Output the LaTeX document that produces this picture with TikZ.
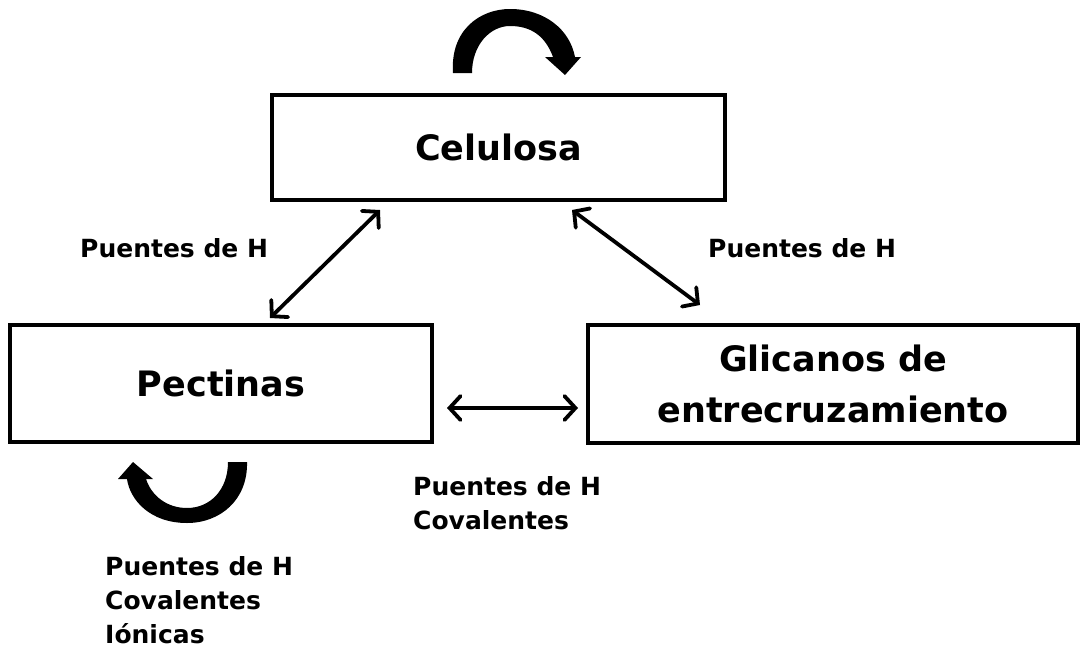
\documentclass[tikz,border=0pt]{standalone}
\usepackage{fontspec}
\setmainfont{DejaVu Sans}
\usetikzlibrary{arrows.meta}
\begin{document}
\begin{tikzpicture}[x=1pt,y=-1pt,
  box/.style={draw,line width=4pt,minimum height=0pt,inner sep=0pt},
  big/.style={font=\bfseries\fontsize{35}{51}\selectfont,align=center},
  small/.style={font=\bfseries\fontsize{25}{34}\selectfont,align=left,anchor=north west,inner sep=0pt},
  link/.style={line width=3.8pt,{Straight Barb[length=11pt,width=24pt,line cap=round]}-{Straight Barb[length=11pt,width=24pt,line cap=round]}},
  curl/.style={fill=black}]
\useasboundingbox (0,0) rectangle (1082,648);
% boxes
\node[box,minimum width=453pt,minimum height=105pt] (cel) at (498.5,147.5) {};
\node[big] (celt) at (cel.center) {Celulosa};
\node[box,minimum width=422pt,minimum height=117pt] (pec) at (221,383.5) {};
\node[big] (pect) at (pec.center) {Pectinas};
\node[box,minimum width=490pt,minimum height=118pt] (gli) at (833,384) {};
\node[big] (glit) at (gli.center) {Glicanos de\\entrecruzamiento};
% connector end points
\coordinate (a1) at (270,318);
\coordinate (a2) at (380,210);
\coordinate (b1) at (572,210);
\coordinate (b2) at (700,305);
\coordinate (c1) at (447,408);
\coordinate (c2) at (578,408);
\draw[link] (a1) -- (a2);
\draw[link] (b1) -- (b2);
\draw[link] (c1) -- (c2);
% labels
\node[small] (l1) at (80,238) {Puentes de H};
\node[small] (l2) at (708,238) {Puentes de H};
\node[small] (l3) at (413,476) {Puentes de H\\Covalentes};
\node[small] (l4) at (105,556) {Puentes de H\\Covalentes\\Iónicas};
% top curled arrow
\fill[curl] (453,73) .. controls (450,30) and (480,9) .. (510,9)
  .. controls (545,9) and (570,30) .. (575,57)
  -- (581,57) -- (565,75) -- (545,57) -- (553,57)
  .. controls (545,35) and (530,26) .. (510,26)
  .. controls (490,26) and (472,45) .. (472,73) -- cycle;
% bottom curled arrow
\fill[curl] (247,462) .. controls (248,500) and (220,523) .. (187,523)
  .. controls (150,523) and (130,500) .. (127,479)
  -- (118,479) -- (133,462) -- (153,479) -- (146,479)
  .. controls (152,497) and (168,508) .. (187,508)
  .. controls (210,508) and (228,490) .. (228,462) -- cycle;
\end{tikzpicture}
\end{document}
